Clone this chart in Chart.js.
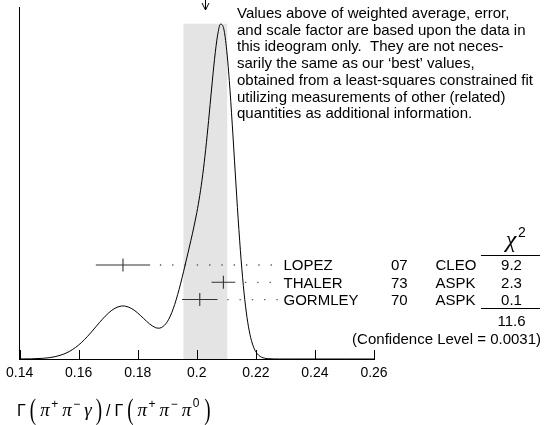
<!DOCTYPE html>
<html><head><meta charset="utf-8">
<script src="https://cdn.jsdelivr.net/npm/chart.js@4/dist/chart.umd.min.js"></script>
<style>html,body{margin:0;padding:0;background:#fff}canvas{display:block}</style>
</head><body>
<canvas id="c" width="546" height="425"></canvas>
<script>
// ---- data ----
const names = ['LOPEZ', 'THALER', 'GORMLEY'];
const years = ['07', '73', '70'];
const experiments = ['CLEO', 'ASPK', 'ASPK'];
const values = [0.175, 0.209, 0.201];
const errors = [0.0092, 0.0040, 0.0060];
const chi2 = ['9.2', '2.3', '0.1'];
const chi2Total = '11.6';
const confidenceLevel = '0.0031';
const average = 0.2029;
const averageError = 0.0075;
const xTicks = [0.14, 0.16, 0.18, 0.20, 0.22, 0.24, 0.26];
const tickLabels = ['0.14', '0.16', '0.18', '0.2', '0.22', '0.24', '0.26'];
const curveX = [0.140,0.144,0.148,0.150,0.152,0.154,0.156,0.158,0.160,0.162,0.164,0.166,0.168,0.170,0.172,0.174,0.175,0.176,0.178,0.180,0.182,0.184,0.186,0.187,0.188,0.190,0.192,0.194,0.196,0.198,0.199,0.200,0.201,0.202,0.203,0.204,0.205,0.206,0.207,0.208,0.209,0.210,0.211,0.212,0.213,0.214,0.215,0.216,0.217,0.218,0.219,0.220,0.221,0.222,0.223,0.224,0.226,0.228,0.232,0.240,0.250,0.260];
const curveY = [0.0001,0.0005,0.0021,0.0039,0.0069,0.0117,0.0187,0.0287,0.0418,0.0582,0.0773,0.0979,0.1183,0.1363,0.1499,0.1571,0.1581,0.1572,0.1501,0.1371,0.1208,0.1047,0.0937,0.0919,0.0938,0.1110,0.1494,0.2076,0.2785,0.3539,0.3935,0.4369,0.4876,0.5494,0.6245,0.7117,0.8053,0.8941,0.9635,0.9986,0.9889,0.9310,0.8305,0.7002,0.5574,0.4183,0.2958,0.1972,0.1238,0.0732,0.0409,0.0215,0.0107,0.0051,0.0023,0.0010,0.0002,0.0000,0,0,0,0];
const noteLines = [
  'Values above of weighted average, error,',
  'and scale factor are based upon the data in',
  'this ideogram only.  They are not neces-',
  'sarily the same as our \u2018best\u2019 values,',
  'obtained from a least-squares constrained fit',
  'utilizing measurements of other (related)',
  'quantities as additional information.'
];

// ---- layout constants ----
const ROW_TOP = 0.2803, ROW_STEP = 0.0515, DOT_END = 0.2285, DOT_GAP = 0.0033;
const SANS = '"Liberation Sans", Arial, Helvetica, sans-serif';
const SERIF = '"Liberation Serif", "Times New Roman", serif';
const rowY = names.map((_, i) => ROW_TOP - i * ROW_STEP);

Chart.defaults.font.family = SANS;
Chart.defaults.color = '#000';

const datasets = [];
// weighted-average band
datasets.push({
  data: [{x: average - averageError, y: 0}, {x: average - averageError, y: 1},
         {x: average + averageError, y: 1}, {x: average + averageError, y: 0}],
  showLine: true, fill: 'origin', backgroundColor: '#e4e4e4', borderWidth: 0,
  pointRadius: 0, tension: 0, order: 10
});
// dotted leaders
values.forEach((v, i) => {
  datasets.push({
    data: [{x: v + errors[i] + DOT_GAP, y: rowY[i]}, {x: DOT_END, y: rowY[i]}],
    showLine: true, borderColor: '#555', borderWidth: 1.3, borderDash: [1.3, 11],
    pointRadius: 0, fill: false, order: 6
  });
});
// error bars
values.forEach((v, i) => {
  datasets.push({
    data: [{x: v - errors[i], y: rowY[i]}, {x: v + errors[i], y: rowY[i]}],
    showLine: true, borderColor: '#333', borderWidth: 1.1, pointRadius: 0, fill: false, order: 3
  });
  datasets.push({
    data: [{x: v, y: rowY[i]}],
    showLine: false, pointStyle: 'line', rotation: 90, pointRadius: 6.5,
    borderColor: '#333', borderWidth: 1.1, order: 3
  });
});
// ideogram curve
datasets.push({
  data: curveX.map((x, i) => ({x, y: curveY[i]})),
  showLine: true, borderColor: '#000', borderWidth: 1, pointRadius: 0,
  cubicInterpolationMode: 'monotone', fill: false, order: 1
});

const overlay = {
  id: 'overlay',
  afterDraw(chart) {
    const ctx = chart.ctx, xs = chart.scales.x, ys = chart.scales.y;
    const bottom = chart.chartArea.bottom;
    ctx.save();
    ctx.strokeStyle = '#000'; ctx.lineWidth = 1;
    // inward ticks
    xTicks.forEach(v => {
      const px = Math.round(xs.getPixelForValue(v)) + 0.5;
      ctx.beginPath(); ctx.moveTo(px, bottom); ctx.lineTo(px, bottom - 9); ctx.stroke();
    });
    // arrow at the average
    const ax = Math.round(xs.getPixelForValue(average)) + 0.5;
    ctx.beginPath(); ctx.moveTo(ax, 0); ctx.lineTo(ax, 10); ctx.stroke();
    ctx.beginPath(); ctx.moveTo(ax - 3.5, 3); ctx.lineTo(ax, 10); ctx.lineTo(ax + 3.5, 3); ctx.stroke();

    ctx.fillStyle = '#000';
    ctx.textBaseline = 'alphabetic';
    // note block
    ctx.font = '15px ' + SANS; ctx.textAlign = 'left';
    noteLines.forEach((l, i) => ctx.fillText(l, 237, 18 + i * 16.7));
    // measurement rows
    names.forEach((n, i) => {
      const py = ys.getPixelForValue(rowY[i]) + 5.4;
      ctx.textAlign = 'left';
      ctx.fillText(n, 283.5, py);
      ctx.fillText(years[i], 391, py);
      ctx.fillText(experiments[i], 435.5, py);
      ctx.textAlign = 'center';
      ctx.fillText(chi2[i], 511.5, py);
    });
    // chi2 header
    ctx.textAlign = 'center';
    ctx.font = 'italic 24px ' + SERIF;
    ctx.fillText('\u03C7', 511, 247);
    ctx.font = '14px ' + SANS; ctx.textAlign = 'left';
    ctx.fillText('2', 518, 237);
    // rules
    const y1 = Math.round(ys.getPixelForValue(rowY[0])) - 9.5;
    const y2 = Math.round(ys.getPixelForValue(rowY[2])) + 8.5;
    ctx.beginPath(); ctx.moveTo(481, y1); ctx.lineTo(540, y1); ctx.stroke();
    ctx.beginPath(); ctx.moveTo(481, y2); ctx.lineTo(540, y2); ctx.stroke();
    ctx.font = '15px ' + SANS; ctx.textAlign = 'center';
    ctx.fillText(chi2Total, 511.5, 325.5);
    ctx.textAlign = 'right';
    ctx.fillText('(Confidence Level = ' + confidenceLevel + ')', 541, 343.5);

    // axis title
    const it = 'italic 19px ' + SERIF, sup = '12px ' + SANS, sans = '16px ' + SANS;
    const P = 'paren';
    const pieces = [
      ['\u0393', sans, 0, 4], ['(', P, 0, 4], ['\u03C0', it, 0, 1.5], ['+', sup, -8, 4],
      ['\u03C0', it, 0, 1.5], ['\u2212', sup, -8, 4], ['\u03B3', it, 0, 4], [')', P, 0, 4],
      ['/', sans, 0, 4],
      ['\u0393', sans, 0, 4], ['(', P, 0, 4], ['\u03C0', it, 0, 1.5], ['+', sup, -8, 4],
      ['\u03C0', it, 0, 1.5], ['\u2212', sup, -8, 4], ['\u03C0', it, 0, 1.5], ['0', sup, -9, 5], [')', P, 0, 0]
    ];
    let x = 17; const base = 416;
    ctx.textAlign = 'left';
    pieces.forEach(([t, f, dy, g]) => {
      if (f === P) {
        ctx.font = '19px ' + SERIF;
        ctx.save(); ctx.translate(x, base + 3); ctx.scale(1, 1.5);
        ctx.fillText(t, 0, 0); ctx.restore();
      } else {
        ctx.font = f; ctx.fillText(t, x, base + dy);
      }
      x += ctx.measureText(t).width + g;
    });
    ctx.restore();
  }
};

new Chart(document.getElementById('c'), {
  type: 'scatter',
  data: {datasets},
  options: {
    responsive: false, animation: false, devicePixelRatio: 1,
    layout: {padding: {left: 14, right: 172, top: 3, bottom: 0}},
    plugins: {legend: {display: false}, tooltip: {enabled: false}},
    scales: {
      x: {
        type: 'linear', min: 0.14, max: 0.26,
        afterBuildTicks: s => { s.ticks = xTicks.map(v => ({value: v})); },
        afterFit: s => { s.height = 66; },
        grid: {display: false, drawTicks: false},
        border: {display: true, color: '#000', width: 1},
        ticks: {font: {size: 14}, color: '#000', padding: 6, maxRotation: 0, autoSkip: false,
                callback: (v, i) => tickLabels[i]}
      },
      y: {
        type: 'linear', min: 0, max: 1.048,
        afterFit: s => { s.width = 0; },
        grid: {display: false, drawTicks: false},
        border: {display: true, color: '#000', width: 1},
        ticks: {display: false}
      }
    }
  },
  plugins: [overlay]
});
</script>
</body></html>
